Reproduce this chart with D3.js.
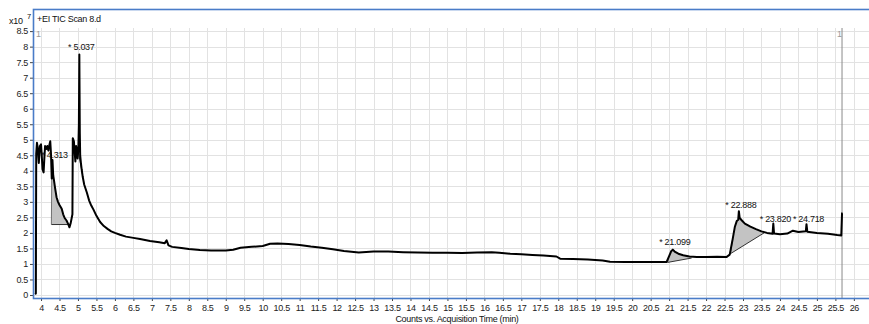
<!DOCTYPE html>
<html>
<head>
<meta charset="utf-8">
<script src="https://cdn.jsdelivr.net/npm/d3@7"></script>
<style>
  body { margin: 0; background: #fff; }
  text { font-family: "Liberation Sans", Arial, sans-serif; letter-spacing: -0.3px; }
</style>
</head>
<body>
<div id="chart"></div>
<script>
// TIC trace, counts in units of 1e7
const times = [3.84, 3.86, 3.87, 3.89, 3.91, 3.94, 3.97, 4.00, 4.02, 4.04, 4.07, 4.09, 4.11, 4.14, 4.17, 4.20, 4.23, 4.25, 4.27, 4.29,
  4.31, 4.33, 4.35, 4.38, 4.42, 4.46, 4.50, 4.56, 4.60, 4.64, 4.69, 4.73, 4.77, 4.80, 4.83, 4.85, 4.86, 4.89, 4.91, 4.93,
  4.95, 4.97, 4.99, 5.01, 5.025, 5.037, 5.05, 5.06, 5.08, 5.10, 5.13, 5.17, 5.24, 5.30, 5.36, 5.42, 5.50, 5.60, 5.70, 5.80,
  5.90, 6.00, 6.14, 6.30, 6.50, 6.68, 6.95, 7.20, 7.35, 7.40, 7.45, 7.55, 7.80, 8.00, 8.30, 8.60, 9.00, 9.20, 9.40, 9.70,
  10.00, 10.20, 10.40, 10.70, 11.00, 11.30, 11.60, 11.90, 12.20, 12.60, 13.00, 13.40, 13.80, 14.20, 14.60, 15.00, 15.40, 15.80, 16.20, 16.40,
  16.70, 17.00, 17.30, 17.60, 17.95, 18.05, 18.40, 18.80, 19.20, 19.40, 19.80, 20.20, 20.60, 20.93, 21.00, 21.06, 21.10, 21.15, 21.25, 21.38,
  21.55, 21.75, 22.00, 22.30, 22.55, 22.64, 22.72, 22.78, 22.83, 22.87, 22.888, 22.91, 22.97, 23.05, 23.20, 23.35, 23.50, 23.65, 23.80, 23.82,
  23.84, 24.00, 24.20, 24.35, 24.50, 24.70, 24.718, 24.74, 25.00, 25.30, 25.55, 25.66, 25.68, 25.69];
const counts = [0.02, 0.05, 4.55, 4.9, 4.75, 4.25, 4.8, 4.85, 4.5, 4.05, 3.95, 4.4, 4.8, 4.7, 4.8, 4.65, 4.85, 4.95, 4.55, 3.75,
  4.35, 3.85, 3.7, 3.45, 3.15, 3.0, 2.9, 2.78, 2.6, 2.48, 2.4, 2.3, 2.18, 2.3, 2.48, 2.6, 5.05, 4.95, 4.6, 4.3,
  4.8, 4.65, 4.4, 4.7, 5.5, 7.75, 5.2, 4.5, 4.25, 4.05, 3.8, 3.55, 3.3, 3.05, 2.88, 2.75, 2.55, 2.35, 2.22, 2.13,
  2.05, 2.0, 1.94, 1.88, 1.84, 1.8, 1.74, 1.7, 1.67, 1.76, 1.6, 1.55, 1.51, 1.48, 1.45, 1.43, 1.43, 1.46, 1.52, 1.55,
  1.58, 1.65, 1.66, 1.64, 1.61, 1.56, 1.52, 1.47, 1.42, 1.37, 1.4, 1.4, 1.38, 1.37, 1.36, 1.36, 1.35, 1.37, 1.38, 1.36,
  1.33, 1.31, 1.29, 1.27, 1.24, 1.17, 1.16, 1.14, 1.11, 1.07, 1.06, 1.06, 1.06, 1.06, 1.25, 1.42, 1.46, 1.4, 1.33, 1.28,
  1.24, 1.22, 1.22, 1.23, 1.22, 1.3, 1.8, 2.2, 2.38, 2.42, 2.7, 2.48, 2.4, 2.3, 2.2, 2.12, 2.05, 2.0, 1.97, 2.3,
  1.98, 1.96, 1.98, 2.07, 2.03, 2.05, 2.28, 2.04, 2.0, 1.97, 1.93, 1.92, 2.63, 2.63];

// integrated peaks: label, start/end time and baseline counts
const peakLabels = ["4.313", "5.037", "21.099", "22.888", "23.820", "24.718"];
const peakTimes = [4.313, 5.037, 21.099, 22.888, 23.820, 24.718];
const labelHeights = [4.41, 7.88, 1.6, 2.8, 2.36, 2.34];
const areaStart = [4.28, 5.01, 20.96, 22.66];
const areaEnd = [4.77, 5.12, 21.61, 23.57];
const baseStart = [2.27, 4.6, 1.05, 1.33];
const baseEnd = [2.27, 3.9, 1.19, 2.0];

const xTicks = d3.range(4, 26.01, 0.5);
const yTicks = d3.range(0, 8.51, 0.5);
const markerTime = 25.68;

const width = 869, height = 324;
const plotLeft = 34, frameTop = 9, plotTop = 28, plotBottom = 298;

const x = d3.scaleLinear().domain([3.81, 26.41]).range([plotLeft, 869]);
const y = d3.scaleLinear().domain([-0.097, 8.6]).range([plotBottom, plotTop]);

const svg = d3.select("#chart").append("svg")
    .attr("width", width)
    .attr("height", height);

// grid lines
const grid = svg.append("g").attr("stroke", "#e2e2e2").attr("stroke-width", 1);
grid.selectAll(".vg").data(xTicks).enter().append("line")
    .attr("x1", d => Math.round(x(d)) + 0.5).attr("x2", d => Math.round(x(d)) + 0.5)
    .attr("y1", plotTop).attr("y2", plotBottom);
grid.selectAll(".hg").data(yTicks).enter().append("line")
    .attr("x1", plotLeft).attr("x2", width)
    .attr("y1", d => Math.round(y(d)) + 0.5).attr("y2", d => Math.round(y(d)) + 0.5);

// marker line near the end of the run
svg.append("line")
    .attr("x1", x(markerTime)).attr("x2", x(markerTime))
    .attr("y1", plotTop).attr("y2", plotBottom)
    .attr("stroke", "#8a8a8a").attr("stroke-width", 1);

svg.append("text").attr("x", 36).attr("y", 37).attr("font-size", 9).attr("fill", "#999").text("1");
svg.append("text").attr("x", x(markerTime) - 5).attr("y", 37).attr("font-size", 9).attr("fill", "#999").text("1");

const trace = times.map((t, i) => [t, counts[i]]);

// shaded integration regions, trace on top and a straight baseline below
areaStart.forEach((s, i) => {
    const e = areaEnd[i];
    const pts = trace.filter(d => d[0] >= s && d[0] <= e);
    const poly = [[s, baseStart[i]]].concat(pts, [[e, baseEnd[i]]]);
    svg.append("path")
        .attr("d", "M" + poly.map(d => x(d[0]) + "," + y(d[1])).join("L") + "Z")
        .attr("fill", "#c3c3c3")
        .attr("stroke", "none");
    svg.append("line")
        .attr("x1", x(s)).attr("y1", y(baseStart[i]))
        .attr("x2", x(e)).attr("y2", y(baseEnd[i]))
        .attr("stroke", "#333").attr("stroke-width", 1);
    svg.append("line")
        .attr("x1", x(s)).attr("y1", y(baseStart[i]))
        .attr("x2", x(pts[0][0])).attr("y2", y(pts[0][1]))
        .attr("stroke", "#555").attr("stroke-width", 0.8);
});

// the chromatogram itself
const line = d3.line().x(d => x(d[0])).y(d => y(d[1]));
svg.append("path")
    .datum(trace)
    .attr("d", line)
    .attr("fill", "none")
    .attr("stroke", "#000")
    .attr("stroke-width", 2)
    .attr("stroke-linejoin", "round");

// peak labels
svg.selectAll(".plabel").data(peakLabels).enter().append("text")
    .attr("x", (d, i) => x(peakTimes[i]) + 2)
    .attr("y", (d, i) => y(labelHeights[i]))
    .attr("text-anchor", "middle")
    .attr("font-size", 9)
    .attr("fill", "#111")
    .text(d => "* " + d);

// axes
const yAxis = svg.append("g")
    .attr("transform", "translate(" + (plotLeft - 1) + ",0)")
    .call(d3.axisLeft(y).tickValues(yTicks).tickSize(3).tickPadding(2).tickFormat(d3.format("~g")));
const xAxis = svg.append("g")
    .attr("transform", "translate(0," + plotBottom + ")")
    .call(d3.axisBottom(x).tickValues(xTicks).tickSize(3).tickPadding(4).tickFormat(d3.format("~g")));
[yAxis, xAxis].forEach(a => {
    a.select(".domain").remove();
    a.selectAll(".tick line").attr("stroke", "#444");
    a.selectAll(".tick text").attr("fill", "#222").attr("font-size", 9)
        .style("font-family", "'Liberation Sans', Arial, sans-serif");
});

// blue frame round the plot
svg.append("rect")
    .attr("x", plotLeft - 0.5).attr("y", frameTop + 0.5)
    .attr("width", width + 5 - plotLeft).attr("height", plotBottom - frameTop)
    .attr("fill", "none")
    .attr("stroke", "#4a7cc8")
    .attr("stroke-width", 1.6);

// titles
svg.append("text").attr("x", 37).attr("y", 22).attr("font-size", 9).attr("fill", "#111").text("+EI TIC Scan 8.d");
svg.append("text").attr("x", 9).attr("y", 24).attr("font-size", 9).attr("fill", "#111").text("x10");
svg.append("text").attr("x", 27).attr("y", 19).attr("font-size", 7.5).attr("fill", "#111").text("7");
svg.append("text").attr("x", 457).attr("y", 322).attr("text-anchor", "middle")
    .attr("font-size", 9).attr("fill", "#111").text("Counts vs. Acquisition Time (min)");
</script>
</body>
</html>
